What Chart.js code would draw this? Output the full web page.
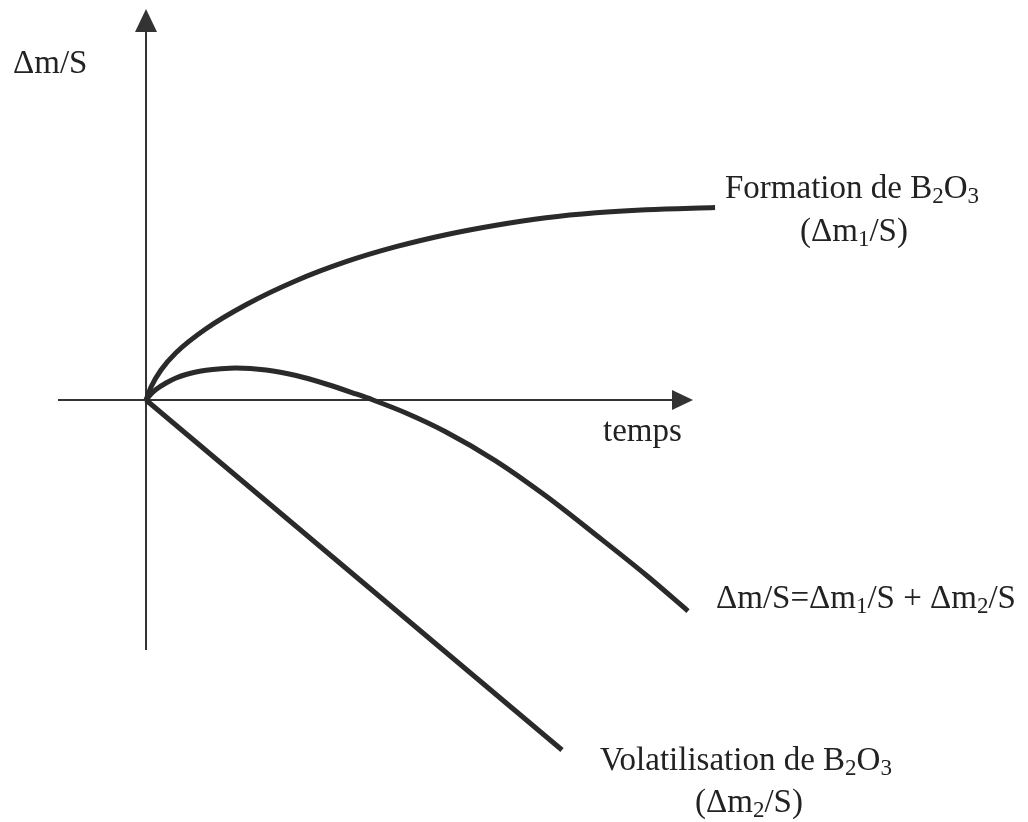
<!DOCTYPE html>
<html>
<head>
<meta charset="utf-8">
<script src="https://cdn.jsdelivr.net/npm/chart.js@4.4.1/dist/chart.umd.min.js"></script>
<style>
  html, body { margin: 0; padding: 0; background: #ffffff; }
  canvas { display: block; }
</style>
</head>
<body>
<canvas id="c" width="1028" height="822" style="width:1028px;height:822px"></canvas>
<script>
// ---- Data (arbitrary units: time on x, Δm/S on y) ----
const formationT = [0, 0.079, 0.236, 0.472, 0.945, 1.575, 2.362, 3.150, 3.937, 4.724, 5.512, 6.299, 7.087, 7.874, 8.961];
const formationY = [0, 0.203, 0.468, 0.738, 1.112, 1.487, 1.861, 2.158, 2.392, 2.579, 2.727, 2.844, 2.922, 2.969, 3.003];

const sumT = [0, 0.079, 0.157, 0.315, 0.472, 0.630, 0.787, 0.945, 1.181, 1.417, 1.890, 2.362, 2.835, 3.307, 3.575, 4.094, 4.724, 5.512, 6.299, 7.087, 7.874, 8.535];
const sumY = [0, 0.094, 0.164, 0.265, 0.343, 0.398, 0.437, 0.465, 0.488, 0.499, 0.468, 0.382, 0.250, 0.094, 0, -0.203, -0.499, -0.952, -1.498, -2.106, -2.730, -3.292];

const volT = [0, 6.551];
const volY = [0, -5.460];

// axis extents (data units)
const xAxisFrom = -1.386, xAxisTip = 8.614;
const yAxisFrom = -3.9,  yAxisTip = 6.1;

const toXY = (t, y) => t.map((v, i) => ({ x: v, y: y[i] }));

const FONT = '"Liberation Serif", "Times New Roman", serif';

function drawRich(ctx, segs, x, y, align) {
  const big = 33, small = 23;
  let total = 0;
  segs.forEach(s => {
    ctx.font = (s[1] ? small : big) + 'px ' + FONT;
    total += ctx.measureText(s[0]).width;
  });
  let cx = align === 'center' ? x - total / 2 : x;
  ctx.textAlign = 'left';
  ctx.textBaseline = 'alphabetic';
  segs.forEach(s => {
    ctx.font = (s[1] ? small : big) + 'px ' + FONT;
    ctx.fillText(s[0], cx, s[1] ? y + 5 : y);
    cx += ctx.measureText(s[0]).width;
  });
}

const axesPlugin = {
  id: 'axesArrows',
  beforeDatasetsDraw(chart) {
    const ctx = chart.ctx, xs = chart.scales.x, ys = chart.scales.y;
    const ox = xs.getPixelForValue(0), oy = ys.getPixelForValue(0);
    const xl = xs.getPixelForValue(xAxisFrom), xt = xs.getPixelForValue(xAxisTip);
    const yb = ys.getPixelForValue(yAxisFrom), yt = ys.getPixelForValue(yAxisTip);
    ctx.save();
    ctx.strokeStyle = '#333';
    ctx.fillStyle = '#333';
    ctx.lineWidth = 2;
    // x axis
    ctx.beginPath();
    ctx.moveTo(xl, oy); ctx.lineTo(xt - 20, oy); ctx.stroke();
    ctx.beginPath();
    ctx.moveTo(xt, oy); ctx.lineTo(xt - 21, oy - 10); ctx.lineTo(xt - 21, oy + 10); ctx.closePath(); ctx.fill();
    // y axis
    ctx.beginPath();
    ctx.moveTo(ox, yb); ctx.lineTo(ox, yt + 22); ctx.stroke();
    ctx.beginPath();
    ctx.moveTo(ox, yt); ctx.lineTo(ox - 11, yt + 23); ctx.lineTo(ox + 11, yt + 23); ctx.closePath(); ctx.fill();
    ctx.restore();
  }
};

const labelsPlugin = {
  id: 'labels',
  afterDraw(chart) {
    const ctx = chart.ctx;
    ctx.save();
    ctx.fillStyle = '#222';
    drawRich(ctx, [['\u0394m/S']], 13, 73, 'left');
    drawRich(ctx, [['Formation de B'], ['2', 1], ['O'], ['3', 1]], 725, 198, 'left');
    drawRich(ctx, [['(\u0394m'], ['1', 1], ['/S)']], 854, 241, 'center');
    drawRich(ctx, [['temps']], 603, 441, 'left');
    drawRich(ctx, [['\u0394m/S=\u0394m'], ['1', 1], ['/S + \u0394m'], ['2', 1], ['/S']], 716, 608, 'left');
    drawRich(ctx, [['Volatilisation de B'], ['2', 1], ['O'], ['3', 1]], 600, 770, 'left');
    drawRich(ctx, [['(\u0394m'], ['2', 1], ['/S)']], 749, 812, 'center');
    ctx.restore();
  }
};

const lineStyle = {
  borderColor: '#2a2a2a',
  borderWidth: 5,
  pointRadius: 0,
  fill: false,
  clip: false,
  cubicInterpolationMode: 'monotone',
  borderCapStyle: 'butt',
  borderJoinStyle: 'round'
};

new Chart(document.getElementById('c'), {
  type: 'line',
  data: {
    datasets: [
      Object.assign({ label: 'Formation de B2O3', data: toXY(formationT, formationY) }, lineStyle),
      Object.assign({ label: 'Δm/S', data: toXY(sumT, sumY) }, lineStyle),
      Object.assign({ label: 'Volatilisation de B2O3', data: toXY(volT, volY), tension: 0 }, lineStyle)
    ]
  },
  options: {
    responsive: false,
    devicePixelRatio: 1,
    animation: false,
    events: [],
    layout: { padding: { left: 58, right: 308, top: 9, bottom: 62 }, autoPadding: false },
    plugins: { legend: { display: false }, tooltip: { enabled: false }, title: { display: false } },
    scales: {
      x: { type: 'linear', display: false, min: -1.386, max: 9.039 },
      y: { type: 'linear', display: false, min: -5.616, max: 6.1 }
    }
  },
  plugins: [axesPlugin, labelsPlugin]
});
</script>
</body>
</html>
